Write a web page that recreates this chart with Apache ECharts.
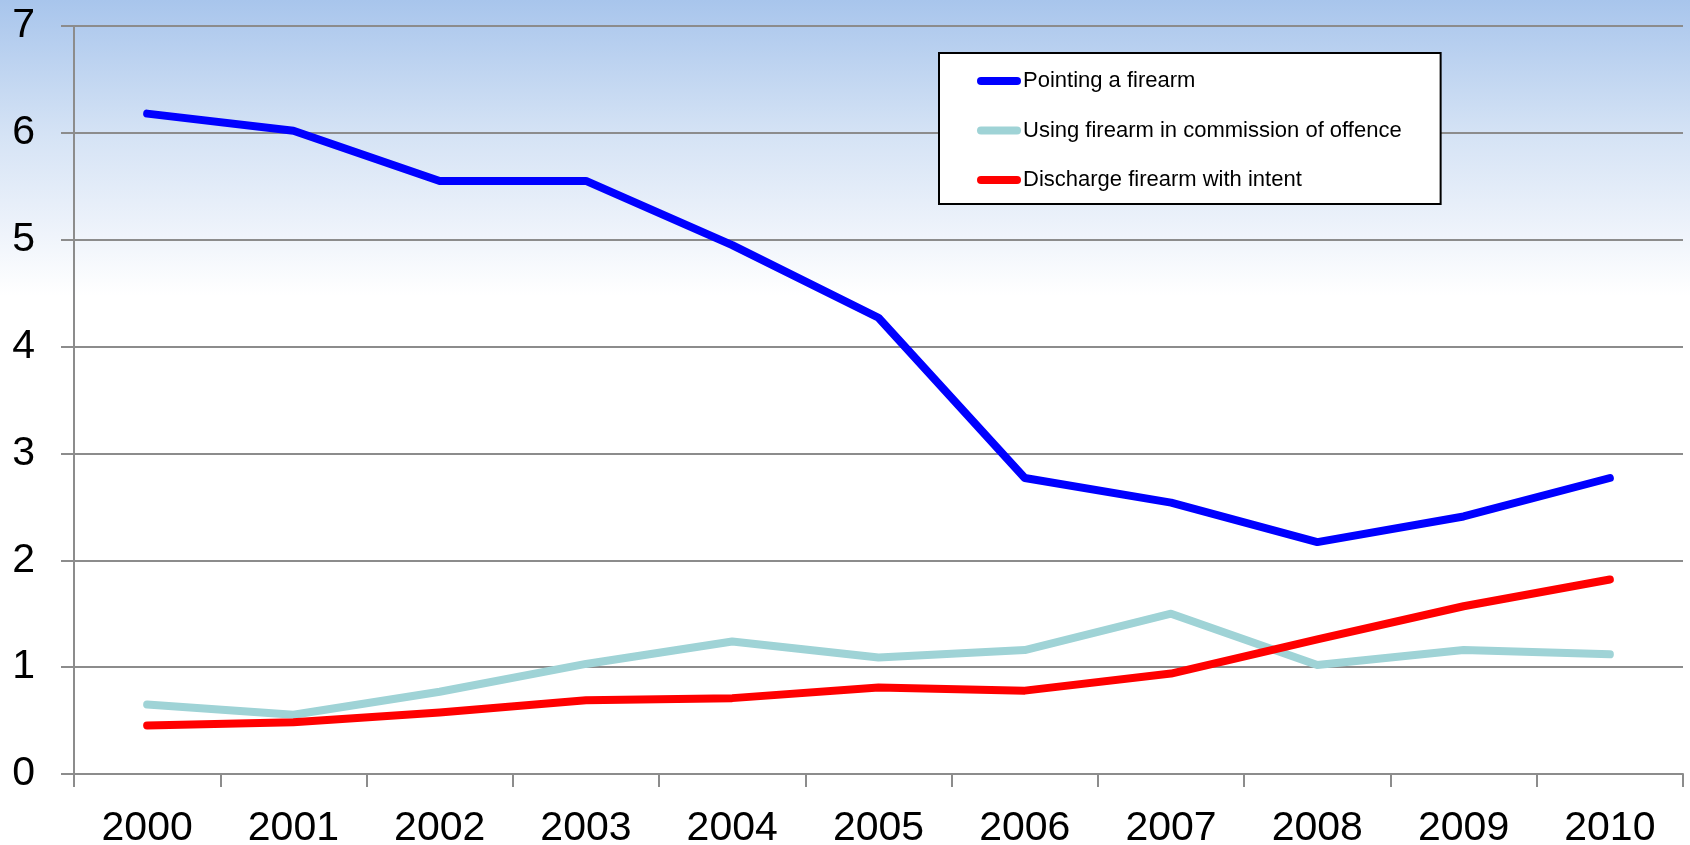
<!DOCTYPE html>
<html>
<head>
<meta charset="utf-8">
<script src="https://cdn.jsdelivr.net/npm/echarts@6/dist/echarts.min.js"></script>
<style>
html,body{margin:0;padding:0;}
#chart{width:1690px;height:845px;}
</style>
</head>
<body>
<div id="chart"></div>
<script>
const years = ['2000','2001','2002','2003','2004','2005','2006','2007','2008','2009','2010'];
const pointing = [6.18, 6.02, 5.55, 5.55, 4.95, 4.27, 2.77, 2.54, 2.17, 2.41, 2.77];
const usingFirearm = [0.65, 0.555, 0.77, 1.03, 1.24, 1.09, 1.16, 1.50, 1.02, 1.16, 1.12];
const discharge = [0.455, 0.485, 0.575, 0.69, 0.71, 0.81, 0.78, 0.94, 1.26, 1.57, 1.82];
const seriesNames = ['Pointing a firearm', 'Using firearm in commission of offence', 'Discharge firearm with intent'];
const seriesColors = ['#0000ff', '#9fd3d6', '#ff0000'];
const yTicks = [0, 1, 2, 3, 4, 5, 6, 7];

const chart = echarts.init(document.getElementById('chart'));
const font = 'Liberation Sans, Arial, sans-serif';
const icon = 'path://M4,0 L40,0 A4,4 0 0 1 40,8 L4,8 A4,4 0 0 1 4,0 Z';
function mk(name, data, color) {
  return {
    name: name, type: 'line', data: data, symbol: 'none', smooth: false,
    lineStyle: { color: color, width: 8, cap: 'round', join: 'round' },
    itemStyle: { color: color },
    emphasis: { disabled: true }
  };
}
chart.setOption({
  animation: false,
  backgroundColor: {
    type: 'linear', x: 0, y: 0, x2: 0, y2: 1,
    colorStops: [
      { offset: 0, color: '#a8c5ec' },
      { offset: 0.16, color: '#d5e3f5' },
      { offset: 0.26, color: '#ebf1fa' },
      { offset: 0.35, color: '#ffffff' },
      { offset: 1, color: '#ffffff' }
    ]
  },
  textStyle: { fontFamily: font },
  grid: { left: 74, right: 7, top: 26, bottom: 71, containLabel: false, outerBoundsMode: 'none' },
  legend: {
    orient: 'vertical', left: 939, top: 53,
    data: seriesNames.map((n) => ({ name: n, icon: icon })),
    itemWidth: 44, itemHeight: 8, itemGap: 23.5,
    padding: [15, 39, 11, 38],
    backgroundColor: '#ffffff', borderColor: '#000000', borderWidth: 2,
    textStyle: { fontFamily: font, fontSize: 22, color: '#000', lineHeight: 26, padding: [0, 0, 0, -3] }
  },
  xAxis: {
    type: 'category', data: years, boundaryGap: true,
    axisLine: { show: true, lineStyle: { color: '#8c8c8c', width: 2 } },
    axisTick: { show: true, length: 13, alignWithLabel: false, lineStyle: { color: '#8c8c8c', width: 2 } },
    axisLabel: { fontFamily: font, fontSize: 41, color: '#000', margin: 34, interval: 0 },
    splitLine: { show: false }
  },
  yAxis: {
    type: 'value', min: yTicks[0], max: yTicks[yTicks.length - 1], interval: 1,
    axisLine: { show: true, lineStyle: { color: '#8c8c8c', width: 2 } },
    axisTick: { show: true, length: 13, lineStyle: { color: '#8c8c8c', width: 2 } },
    axisLabel: { fontFamily: font, fontSize: 41, color: '#000', margin: 39 },
    splitLine: { show: true, lineStyle: { color: '#8c8c8c', width: 2 } }
  },
  series: [
    mk(seriesNames[0], pointing, seriesColors[0]),
    mk(seriesNames[1], usingFirearm, seriesColors[1]),
    mk(seriesNames[2], discharge, seriesColors[2])
  ]
});
</script>
</body>
</html>
